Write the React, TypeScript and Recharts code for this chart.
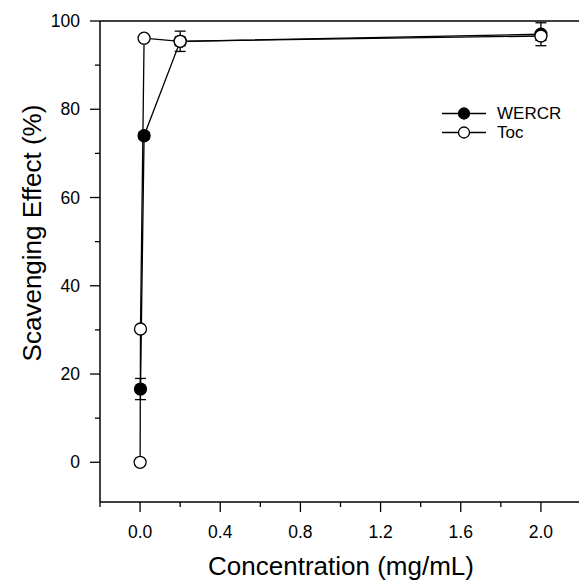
import { ComposedChart, Scatter, XAxis, YAxis, ErrorBar, Legend, ReferenceLine, Label } from 'recharts'

// WERCR (filled circles)
const wercrConc = [0.002, 0.02, 0.2, 2.0]
const wercrEffect = [16.6, 74.0, 95.4, 97.0]
const wercrErr = [2.4, 0.8, 1.0, 2.6]

// Toc (open circles)
const tocConc = [0.0002, 0.002, 0.02, 0.2, 2.0]
const tocEffect = [0.0, 30.2, 96.1, 95.4, 96.6]
const tocErr = [0, 0, 0, 2.3, 1.0]

const xTicks = [-0.2, 0, 0.2, 0.4, 0.6, 0.8, 1.0, 1.2, 1.4, 1.6, 1.8, 2.0, 2.2]
const xLabelTicks = [0, 0.4, 0.8, 1.2, 1.6, 2.0]
const yTicks = [0, 10, 20, 30, 40, 50, 60, 70, 80, 90, 100]
const yLabelTicks = [0, 20, 40, 60, 80, 100]

const font = 'Arial, "Liberation Sans", sans-serif'

const wercrData = wercrConc.map((conc, i) => ({ conc, effect: wercrEffect[i], err: wercrErr[i] }))
const tocData = tocConc.map((conc, i) => ({ conc, effect: tocEffect[i], err: tocErr[i] }))

const isIn = (list: number[], v: number) => list.some(t => Math.abs(t - v) < 1e-9)

function XTick(props: any) {
  const { x, y, payload } = props
  const major = isIn(xLabelTicks, payload.value)
  return (
    <g>
      <line x1={x} y1={y} x2={x} y2={y + (major ? 10 : 5)} stroke="#000" strokeWidth={1.3} />
      {major && (
        <text x={x} y={y + 36} textAnchor="middle" fontSize={17.5} fontFamily={font} fill="#000">
          {payload.value.toFixed(1)}
        </text>
      )}
    </g>
  )
}

function YTick(props: any) {
  const { x, y, payload } = props
  const major = isIn(yLabelTicks, payload.value)
  return (
    <g>
      <line x1={x} y1={y} x2={x - (major ? 10 : 5)} y2={y} stroke="#000" strokeWidth={1.3} />
      {major && (
        <text x={x - 20} y={y + 6} textAnchor="end" fontSize={17.5} fontFamily={font} fill="#000">
          {payload.value}
        </text>
      )}
    </g>
  )
}

const dot = (fill: string) => (p: any) => (
  <circle cx={p.cx} cy={p.cy} r={6} fill={fill} stroke="#000" strokeWidth={1.3} />
)

const legendItems = [
  { name: 'WERCR', fill: '#000' },
  { name: 'Toc', fill: '#fff' },
]

function renderLegend() {
  return (
    <div style={{ fontFamily: font, fontSize: 17, color: '#000' }}>
      {legendItems.map(item => (
        <div key={item.name} style={{ display: 'flex', alignItems: 'center', height: 19 }}>
          <svg width={44} height={19}>
            <line x1={0} y1={9.5} x2={44} y2={9.5} stroke="#000" strokeWidth={1.3} />
            <circle cx={22} cy={9.5} r={5.5} fill={item.fill} stroke="#000" strokeWidth={1.3} />
          </svg>
          <span style={{ marginLeft: 11, lineHeight: '19px' }}>{item.name}</span>
        </div>
      ))}
    </div>
  )
}

export default function App() {
  return (
    <div style={{ position: 'absolute', left: 0, top: 0, width: 579, height: 582, overflow: 'hidden', background: '#fff' }}>
      <ComposedChart width={600} height={582} margin={{ top: 21, right: 19, bottom: 0, left: 0 }}>
        <XAxis
          type="number"
          dataKey="conc"
          domain={[-0.2, 2.2]}
          ticks={xTicks}
          interval={0}
          height={80}
          tickSize={0}
          tickMargin={0}
          tickLine={false}
          tick={<XTick />}
          axisLine={{ stroke: '#000', strokeWidth: 1.5 }}
          allowDataOverflow
        >
          <Label
            content={() => (
              <text x={341} y={575} textAnchor="middle" fontSize={26} fontFamily={font} fill="#000">
                Concentration (mg/mL)
              </text>
            )}
          />
        </XAxis>
        <YAxis
          type="number"
          dataKey="effect"
          domain={[-9, 100]}
          ticks={yTicks}
          interval={0}
          width={100}
          tickSize={0}
          tickMargin={0}
          tickLine={false}
          tick={<YTick />}
          axisLine={{ stroke: '#000', strokeWidth: 1.5 }}
          allowDataOverflow
        >
          <Label
            content={() => (
              <text
                x={32}
                y={233}
                textAnchor="middle"
                dominantBaseline="central"
                transform="rotate(-90 32 233)"
                fontSize={26}
                fontFamily={font}
                fill="#000"
              >
                Scavenging Effect (%)
              </text>
            )}
          />
        </YAxis>
        <ReferenceLine y={100} stroke="#000" strokeWidth={1.5} />
        <Legend
          content={renderLegend}
          layout="vertical"
          align="center"
          verticalAlign="middle"
          wrapperStyle={{ left: 442, top: 104, width: 'auto' }}
        />
        <Scatter
          name="WERCR"
          data={wercrData}
          line={{ stroke: '#000', strokeWidth: 1.3 }}
          lineType="joint"
          shape={dot('#000')}
          isAnimationActive={false}
        >
          <ErrorBar dataKey="err" direction="y" width={5.5} stroke="#000" strokeWidth={1.3} />
        </Scatter>
        <Scatter
          name="Toc"
          data={tocData}
          line={{ stroke: '#000', strokeWidth: 1.3 }}
          lineType="joint"
          shape={dot('#fff')}
          isAnimationActive={false}
        >
          <ErrorBar dataKey="err" direction="y" width={5.5} stroke="#000" strokeWidth={1.3} />
        </Scatter>
      </ComposedChart>
    </div>
  )
}
